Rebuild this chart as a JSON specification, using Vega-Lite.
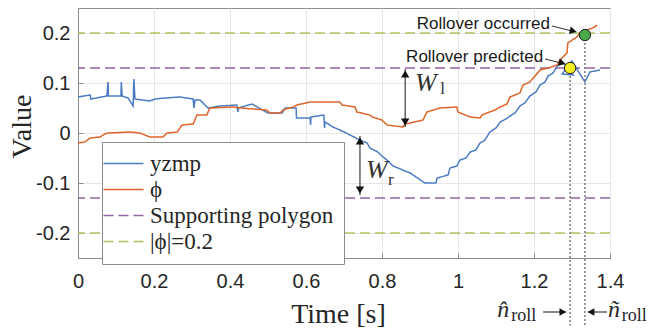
{
  "$schema": "https://vega.github.io/schema/vega-lite/v6.json",
  "width": 532,
  "height": 250,
  "autosize": {"type": "none"},
  "padding": {"left": 78, "top": 8, "right": 62, "bottom": 72},
  "background": "white",
  "config": {
    "view": {"stroke": "#8c8c8c", "strokeWidth": 1},
    "legend": {"fillColor": "white", "strokeColor": "#8c8c8c", "padding": 10, "rowPadding": 2,
      "symbolType": "M-2,0H2", "symbolSize": 400, "symbolStrokeWidth": 1.5, "labelOffset": 15,
      "labelFont": "Liberation Serif", "labelFontSize": 23, "labelColor": "#262626", "labelLimit": 400}
  },
  "datasets": {
    "refs": [
      {"s": "Supporting polygon", "y": 0.13},
      {"s": "Supporting polygon", "y": -0.13},
      {"s": "|ϕ|=0.2", "y": 0.2},
      {"s": "|ϕ|=0.2", "y": -0.2}
    ],
    "lines": [
      {"s":"yzmp","i":0,"x":0,"y":0.072},{"s":"yzmp","i":1,"x":0.032,"y":0.076},{"s":"yzmp","i":2,"x":0.034,"y":0.068},{"s":"yzmp","i":3,"x":0.076,"y":0.074},{"s":"yzmp","i":4,"x":0.079,"y":0.102},{"s":"yzmp","i":5,"x":0.080,"y":0.074},{"s":"yzmp","i":6,"x":0.113,"y":0.074},{"s":"yzmp","i":7,"x":0.114,"y":0.102},{"s":"yzmp","i":8,"x":0.116,"y":0.074},{"s":"yzmp","i":9,"x":0.132,"y":0.070},{"s":"yzmp","i":10,"x":0.145,"y":0.054},{"s":"yzmp","i":11,"x":0.147,"y":0.108},{"s":"yzmp","i":12,"x":0.150,"y":0.068},{"s":"yzmp","i":13,"x":0.189,"y":0.064},{"s":"yzmp","i":14,"x":0.203,"y":0.068},{"s":"yzmp","i":15,"x":0.229,"y":0.070},{"s":"yzmp","i":16,"x":0.268,"y":0.072},{"s":"yzmp","i":17,"x":0.303,"y":0.068},{"s":"yzmp","i":18,"x":0.305,"y":0.050},{"s":"yzmp","i":19,"x":0.308,"y":0.066},{"s":"yzmp","i":20,"x":0.321,"y":0.066},{"s":"yzmp","i":21,"x":0.342,"y":0.050},{"s":"yzmp","i":22,"x":0.374,"y":0.054},{"s":"yzmp","i":23,"x":0.418,"y":0.056},{"s":"yzmp","i":24,"x":0.421,"y":0.042},{"s":"yzmp","i":25,"x":0.422,"y":0.050},{"s":"yzmp","i":26,"x":0.458,"y":0.058},{"s":"yzmp","i":27,"x":0.500,"y":0.040},{"s":"yzmp","i":28,"x":0.537,"y":0.040},{"s":"yzmp","i":29,"x":0.545,"y":0.050},{"s":"yzmp","i":30,"x":0.574,"y":0.050},{"s":"yzmp","i":31,"x":0.575,"y":0.030},{"s":"yzmp","i":32,"x":0.611,"y":0.030},{"s":"yzmp","i":33,"x":0.612,"y":0.016},{"s":"yzmp","i":34,"x":0.613,"y":0.032},{"s":"yzmp","i":35,"x":0.647,"y":0.036},{"s":"yzmp","i":36,"x":0.649,"y":0.010},{"s":"yzmp","i":37,"x":0.650,"y":0.022},{"s":"yzmp","i":38,"x":0.671,"y":0.012},{"s":"yzmp","i":39,"x":0.695,"y":0.004},{"s":"yzmp","i":40,"x":0.721,"y":-0.006},{"s":"yzmp","i":41,"x":0.742,"y":-0.014},{"s":"yzmp","i":42,"x":0.761,"y":-0.020},{"s":"yzmp","i":43,"x":0.768,"y":-0.030},{"s":"yzmp","i":44,"x":0.789,"y":-0.038},{"s":"yzmp","i":45,"x":0.803,"y":-0.048},{"s":"yzmp","i":46,"x":0.813,"y":-0.054},{"s":"yzmp","i":47,"x":0.829,"y":-0.066},{"s":"yzmp","i":48,"x":0.874,"y":-0.080},{"s":"yzmp","i":49,"x":0.913,"y":-0.100},{"s":"yzmp","i":50,"x":0.942,"y":-0.100},{"s":"yzmp","i":51,"x":0.945,"y":-0.090},{"s":"yzmp","i":52,"x":0.974,"y":-0.084},{"s":"yzmp","i":53,"x":0.979,"y":-0.070},{"s":"yzmp","i":54,"x":0.997,"y":-0.066},{"s":"yzmp","i":55,"x":1.005,"y":-0.054},{"s":"yzmp","i":56,"x":1.021,"y":-0.050},{"s":"yzmp","i":57,"x":1.032,"y":-0.038},{"s":"yzmp","i":58,"x":1.047,"y":-0.034},{"s":"yzmp","i":59,"x":1.058,"y":-0.020},{"s":"yzmp","i":60,"x":1.071,"y":-0.014},{"s":"yzmp","i":61,"x":1.084,"y":0.002},{"s":"yzmp","i":62,"x":1.100,"y":0.010},{"s":"yzmp","i":63,"x":1.111,"y":0.022},{"s":"yzmp","i":64,"x":1.126,"y":0.028},{"s":"yzmp","i":65,"x":1.137,"y":0.034},{"s":"yzmp","i":66,"x":1.150,"y":0.040},{"s":"yzmp","i":67,"x":1.163,"y":0.054},{"s":"yzmp","i":68,"x":1.176,"y":0.060},{"s":"yzmp","i":69,"x":1.189,"y":0.074},{"s":"yzmp","i":70,"x":1.205,"y":0.082},{"s":"yzmp","i":71,"x":1.216,"y":0.096},{"s":"yzmp","i":72,"x":1.229,"y":0.102},{"s":"yzmp","i":73,"x":1.237,"y":0.114},{"s":"yzmp","i":74,"x":1.250,"y":0.120},{"s":"yzmp","i":75,"x":1.271,"y":0.146},{"s":"yzmp","i":76,"x":1.303,"y":0.116},{"s":"yzmp","i":77,"x":1.274,"y":0.118},{"s":"yzmp","i":78,"x":1.300,"y":0.144},{"s":"yzmp","i":79,"x":1.334,"y":0.102},{"s":"yzmp","i":80,"x":1.347,"y":0.122},{"s":"yzmp","i":81,"x":1.374,"y":0.126},
      {"s":"ϕ","i":0,"x":0,"y":-0.020},{"s":"ϕ","i":1,"x":0.018,"y":-0.018},{"s":"ϕ","i":2,"x":0.032,"y":-0.010},{"s":"ϕ","i":3,"x":0.058,"y":-0.008},{"s":"ϕ","i":4,"x":0.071,"y":-0.002},{"s":"ϕ","i":5,"x":0.079,"y":0.000},{"s":"ϕ","i":6,"x":0.137,"y":0.002},{"s":"ϕ","i":7,"x":0.163,"y":0.000},{"s":"ϕ","i":8,"x":0.189,"y":-0.008},{"s":"ϕ","i":9,"x":0.224,"y":-0.008},{"s":"ϕ","i":10,"x":0.234,"y":0.000},{"s":"ϕ","i":11,"x":0.261,"y":0.002},{"s":"ϕ","i":12,"x":0.274,"y":0.016},{"s":"ϕ","i":13,"x":0.303,"y":0.018},{"s":"ϕ","i":14,"x":0.313,"y":0.036},{"s":"ϕ","i":15,"x":0.339,"y":0.036},{"s":"ϕ","i":16,"x":0.347,"y":0.050},{"s":"ϕ","i":17,"x":0.408,"y":0.052},{"s":"ϕ","i":18,"x":0.426,"y":0.050},{"s":"ϕ","i":19,"x":0.497,"y":0.046},{"s":"ϕ","i":20,"x":0.505,"y":0.040},{"s":"ϕ","i":21,"x":0.532,"y":0.040},{"s":"ϕ","i":22,"x":0.539,"y":0.046},{"s":"ϕ","i":23,"x":0.566,"y":0.052},{"s":"ϕ","i":24,"x":0.576,"y":0.056},{"s":"ϕ","i":25,"x":0.611,"y":0.062},{"s":"ϕ","i":26,"x":0.689,"y":0.062},{"s":"ϕ","i":27,"x":0.695,"y":0.056},{"s":"ϕ","i":28,"x":0.729,"y":0.052},{"s":"ϕ","i":29,"x":0.734,"y":0.042},{"s":"ϕ","i":30,"x":0.768,"y":0.036},{"s":"ϕ","i":31,"x":0.774,"y":0.032},{"s":"ϕ","i":32,"x":0.800,"y":0.026},{"s":"ϕ","i":33,"x":0.813,"y":0.016},{"s":"ϕ","i":34,"x":0.855,"y":0.012},{"s":"ϕ","i":35,"x":0.861,"y":0.018},{"s":"ϕ","i":36,"x":0.874,"y":0.020},{"s":"ϕ","i":37,"x":0.908,"y":0.026},{"s":"ϕ","i":38,"x":0.918,"y":0.042},{"s":"ϕ","i":39,"x":0.953,"y":0.050},{"s":"ϕ","i":40,"x":0.997,"y":0.052},{"s":"ϕ","i":41,"x":1.000,"y":0.042},{"s":"ϕ","i":42,"x":1.032,"y":0.032},{"s":"ϕ","i":43,"x":1.058,"y":0.030},{"s":"ϕ","i":44,"x":1.063,"y":0.036},{"s":"ϕ","i":45,"x":1.076,"y":0.040},{"s":"ϕ","i":46,"x":1.097,"y":0.046},{"s":"ϕ","i":47,"x":1.111,"y":0.052},{"s":"ϕ","i":48,"x":1.129,"y":0.058},{"s":"ϕ","i":49,"x":1.137,"y":0.072},{"s":"ϕ","i":50,"x":1.163,"y":0.080},{"s":"ϕ","i":51,"x":1.171,"y":0.096},{"s":"ϕ","i":52,"x":1.189,"y":0.102},{"s":"ϕ","i":53,"x":1.203,"y":0.114},{"s":"ϕ","i":54,"x":1.216,"y":0.126},{"s":"ϕ","i":55,"x":1.237,"y":0.130},{"s":"ϕ","i":56,"x":1.261,"y":0.136},{"s":"ϕ","i":57,"x":1.268,"y":0.146},{"s":"ϕ","i":58,"x":1.287,"y":0.160},{"s":"ϕ","i":59,"x":1.289,"y":0.180},{"s":"ϕ","i":60,"x":1.313,"y":0.192},{"s":"ϕ","i":61,"x":1.321,"y":0.200},{"s":"ϕ","i":62,"x":1.339,"y":0.206},{"s":"ϕ","i":63,"x":1.355,"y":0.210},{"s":"ϕ","i":64,"x":1.366,"y":0.216}
    ],
    "vdots": [
      {"x": 1.295, "y": 0.13, "y2": -0.385},
      {"x": 1.334, "y": 0.196, "y2": -0.385}
    ],
    "arrows": [
      {"x": 0.861, "y": 0.128, "x2": 0.861, "y2": 0.012},
      {"x": 0.742, "y": -0.006, "x2": 0.742, "y2": -0.124},
      {"x": 1.247, "y": 0.214, "x2": 1.311, "y2": 0.202},
      {"x": 1.229, "y": 0.148, "x2": 1.282, "y2": 0.138},
      {"x": 1.224, "y": -0.358, "x2": 1.284, "y2": -0.358},
      {"x": 1.342, "y": -0.358, "x2": 1.392, "y2": -0.358}
    ],
    "headsUp": [{"x": 0.861, "y": 0.118}, {"x": 0.742, "y": -0.016}],
    "headsDown": [{"x": 0.861, "y": 0.022}, {"x": 0.742, "y": -0.114}],
    "headsTilt": [{"x": 1.303, "y": 0.204}, {"x": 1.274, "y": 0.14}],
    "headsRight": [{"x": 1.276, "y": -0.358}],
    "headsLeft": [{"x": 1.350, "y": -0.358}],
    "occurred": [{"x": 1.334, "y": 0.196}],
    "predicted": [{"x": 1.295, "y": 0.13}],
    "notes": [
      {"x": 1.242, "y": 0.218, "t": "Rollover occurred"},
      {"x": 1.224, "y": 0.152, "t": "Rollover predicted"}
    ],
    "wBig": [{"x": 0.887, "y": 0.1, "t": "W"}, {"x": 0.758, "y": -0.074, "t": "W"}],
    "wSub": [{"x": 0.953, "y": 0.088, "t": "l"}, {"x": 0.816, "y": -0.094, "t": "r"}],
    "nBig": [{"x": 1.103, "y": -0.354, "t": "n̂"}, {"x": 1.395, "y": -0.354, "t": "ñ"}],
    "nSub": [{"x": 1.140, "y": -0.366, "t": "roll"}, {"x": 1.431, "y": -0.366, "t": "roll"}]
  },
  "layer": [
    {
      "data": {"name": "refs"},
      "mark": {"type": "rule", "strokeWidth": 1.5},
      "encoding": {
        "y": {"field": "y", "type": "quantitative", "scale": {"domain": [-0.25, 0.25], "nice": false},
          "axis": {"values": [-0.2, -0.1, 0, 0.1, 0.2],
            "labelExpr": "datum.value < 0 ? '-' + format(-datum.value, '~g') : format(datum.value, '~g')",
            "grid": true, "gridColor": "#e6e6e6", "domainColor": "#8c8c8c", "ticks": true, "tickSize": -5, "tickColor": "#8c8c8c",
            "labelFont": "Liberation Sans", "labelFontSize": 20, "labelColor": "#262626", "labelPadding": 13, "labelFlush": false,
            "title": "Value", "titleFont": "Liberation Serif", "titleFontSize": 28, "titleFontWeight": "normal", "titleColor": "#262626",
            "titleX": -56, "titleY": 118, "titleAlign": "center", "titleBaseline": "middle", "titleAngle": -90}},
        "color": {"field": "s", "type": "nominal",
          "scale": {"domain": ["yzmp", "ϕ", "Supporting polygon", "|ϕ|=0.2"], "range": ["#4a7cc4", "#de6429", "#9265a2", "#adc463"]},
          "legend": {"title": null, "orient": "none", "legendX": 24, "legendY": 134, "labelFont": "Liberation Serif", "labelFontSize": 23}},
        "strokeDash": {"field": "s", "type": "nominal",
          "scale": {"domain": ["yzmp", "ϕ", "Supporting polygon", "|ϕ|=0.2"], "range": [[1, 0], [1, 0], [10, 5], [10, 5]]},
          "legend": {"title": null, "orient": "none", "legendX": 24, "legendY": 134, "labelFont": "Liberation Serif", "labelFontSize": 23}}
      }
    },
    {
      "data": {"name": "lines"},
      "mark": {"type": "line", "strokeWidth": 1.5},
      "encoding": {
        "x": {"field": "x", "type": "quantitative", "scale": {"domain": [0, 1.4], "nice": false},
          "axis": {"values": [0, 0.2, 0.4, 0.6, 0.8, 1, 1.2, 1.4], "format": "~g",
            "grid": true, "gridColor": "#e6e6e6", "domainColor": "#8c8c8c", "ticks": true, "tickSize": -5, "tickColor": "#8c8c8c",
            "labelFont": "Liberation Sans", "labelFontSize": 20, "labelColor": "#262626", "labelPadding": 18, "labelFlush": false,
            "title": "Time [s]", "titleFont": "Liberation Serif", "titleFontSize": 28, "titleFontWeight": "normal", "titleColor": "#262626",
            "titleX": 260, "titleY": 56, "titleAlign": "center", "titleBaseline": "middle"}},
        "y": {"field": "y", "type": "quantitative", "scale": {"domain": [-0.25, 0.25], "nice": false}},
        "color": {"field": "s", "type": "nominal"},
        "strokeDash": {"field": "s", "type": "nominal"},
        "order": {"field": "i", "type": "quantitative"}
      }
    },
    {
      "data": {"name": "vdots"},
      "mark": {"type": "rule", "strokeDash": [2, 2], "stroke": "#7a7a7a", "strokeWidth": 1.5, "clip": false},
      "encoding": {
        "x": {"field": "x", "type": "quantitative"},
        "y": {"field": "y", "type": "quantitative"},
        "y2": {"field": "y2"}
      }
    },
    {
      "data": {"name": "arrows"},
      "mark": {"type": "rule", "stroke": "#3a3a3a", "strokeWidth": 1.2, "clip": false},
      "encoding": {
        "x": {"field": "x", "type": "quantitative"},
        "y": {"field": "y", "type": "quantitative"},
        "x2": {"field": "x2"},
        "y2": {"field": "y2"}
      }
    },
    {
      "data": {"name": "headsUp"},
      "mark": {"type": "point", "shape": "triangle-up", "filled": true, "fill": "#111", "size": 70, "opacity": 1},
      "encoding": {"x": {"field": "x", "type": "quantitative"}, "y": {"field": "y", "type": "quantitative"}}
    },
    {
      "data": {"name": "headsDown"},
      "mark": {"type": "point", "shape": "triangle-down", "filled": true, "fill": "#111", "size": 70, "opacity": 1},
      "encoding": {"x": {"field": "x", "type": "quantitative"}, "y": {"field": "y", "type": "quantitative"}}
    },
    {
      "data": {"name": "headsTilt"},
      "mark": {"type": "point", "shape": "triangle-right", "angle": 14, "filled": true, "fill": "#111", "size": 60, "opacity": 1},
      "encoding": {"x": {"field": "x", "type": "quantitative"}, "y": {"field": "y", "type": "quantitative"}}
    },
    {
      "data": {"name": "headsRight"},
      "mark": {"type": "point", "shape": "triangle-right", "filled": true, "fill": "#111", "size": 60, "opacity": 1, "clip": false},
      "encoding": {"x": {"field": "x", "type": "quantitative"}, "y": {"field": "y", "type": "quantitative"}}
    },
    {
      "data": {"name": "headsLeft"},
      "mark": {"type": "point", "shape": "triangle-left", "filled": true, "fill": "#111", "size": 60, "opacity": 1, "clip": false},
      "encoding": {"x": {"field": "x", "type": "quantitative"}, "y": {"field": "y", "type": "quantitative"}}
    },
    {
      "data": {"name": "occurred"},
      "mark": {"type": "point", "shape": "circle", "filled": true, "fill": "#4aa84a", "stroke": "#1f1f1f", "strokeWidth": 1, "size": 130, "opacity": 1},
      "encoding": {"x": {"field": "x", "type": "quantitative"}, "y": {"field": "y", "type": "quantitative"}}
    },
    {
      "data": {"name": "predicted"},
      "mark": {"type": "point", "shape": "circle", "filled": true, "fill": "#f4ee22", "stroke": "#1f1f1f", "strokeWidth": 1, "size": 130, "opacity": 1},
      "encoding": {"x": {"field": "x", "type": "quantitative"}, "y": {"field": "y", "type": "quantitative"}}
    },
    {
      "data": {"name": "notes"},
      "mark": {"type": "text", "align": "right", "baseline": "middle", "font": "Liberation Sans", "fontSize": 17, "color": "#1a1a1a"},
      "encoding": {"x": {"field": "x", "type": "quantitative"}, "y": {"field": "y", "type": "quantitative"}, "text": {"field": "t"}}
    },
    {
      "data": {"name": "wBig"},
      "mark": {"type": "text", "align": "left", "baseline": "middle", "font": "Liberation Serif", "fontStyle": "italic", "fontSize": 26, "color": "#333"},
      "encoding": {"x": {"field": "x", "type": "quantitative"}, "y": {"field": "y", "type": "quantitative"}, "text": {"field": "t"}}
    },
    {
      "data": {"name": "wSub"},
      "mark": {"type": "text", "align": "left", "baseline": "middle", "font": "Liberation Serif", "fontSize": 17, "color": "#333"},
      "encoding": {"x": {"field": "x", "type": "quantitative"}, "y": {"field": "y", "type": "quantitative"}, "text": {"field": "t"}}
    },
    {
      "data": {"name": "nBig"},
      "mark": {"type": "text", "align": "left", "baseline": "middle", "font": "Liberation Serif", "fontStyle": "italic", "fontSize": 24, "color": "#262626", "clip": false},
      "encoding": {"x": {"field": "x", "type": "quantitative"}, "y": {"field": "y", "type": "quantitative"}, "text": {"field": "t"}}
    },
    {
      "data": {"name": "nSub"},
      "mark": {"type": "text", "align": "left", "baseline": "middle", "font": "Liberation Serif", "fontSize": 18, "color": "#262626", "clip": false},
      "encoding": {"x": {"field": "x", "type": "quantitative"}, "y": {"field": "y", "type": "quantitative"}, "text": {"field": "t"}}
    }
  ]
}
